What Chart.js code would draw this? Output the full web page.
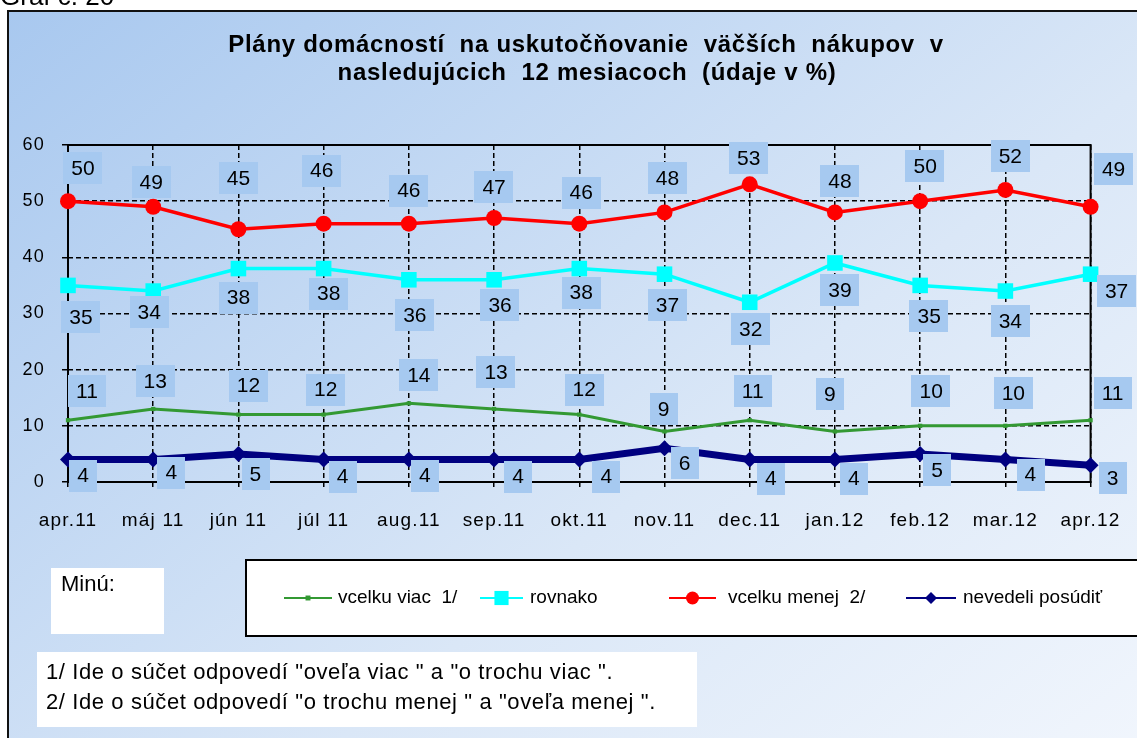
<!DOCTYPE html>
<html><head><meta charset="utf-8">
<script src="https://cdn.jsdelivr.net/npm/chart.js@4.4.1/dist/chart.umd.min.js"></script>
<style>html,body{margin:0;padding:0;background:#fff;overflow:hidden}canvas{display:block}</style>
</head><body>
<canvas id="c" width="1137" height="738"></canvas>
<script>
// ---------- DATA ----------
const categories = ['apr.11','máj 11','jún 11','júl 11','aug.11','sep.11','okt.11','nov.11','dec.11','jan.12','feb.12','mar.12','apr.12'];
const vcelkuViac  = [11,13,12,12,14,13,12,9,11,9,10,10,11];
const rovnako     = [35,34,38,38,36,36,38,37,32,39,35,34,37];
const vcelkuMenej = [50,49,45,46,46,47,46,48,53,48,50,52,49];
const nevedeli    = [4,4,5,4,4,4,4,6,4,4,5,4,3];
const yTickValues = [0,10,20,30,40,50,60];
const seriesNames = ['vcelku viac  1/','rovnako','vcelku menej  2/','nevedeli posúdiť'];
const titleLines  = ['Plány domácností  na uskutočňovanie  väčších  nákupov  v','nasledujúcich  12 mesiacoch  (údaje v %)'];
const noteLines   = ['1/ Ide o súčet odpovedí "oveľa viac " a "o trochu viac ".','2/ Ide o súčet odpovedí "o trochu menej " a "oveľa menej ".'];
const minuText    = 'Minú:';
const graphLabel  = 'Graf č. 20';

// ---------- STYLE / LAYOUT ----------
const FONT = 'Arial, "Liberation Sans", sans-serif';
const colors = ['#339933','#00ffff','#ff0000','#000080'];
// data-label offsets (px, relative to each point) – layout only
const labelOffsets = [
  {dx:[19,2,10,2,10,2,5,-1,3,-5,11,8,22], dy:[-29,-28,-29,-25,-28,-37,-25,-22,-29,-37,-35,-33,-27]},
  {dx:[13,-4,0,5,6,6,2,3,1,5,9,5,26], dy:[32,21,29,25,35,25,24,31,27,27,31,30,17]},
  {dx:[15,-2,0,-2,0,0,2,3,-1,5,5,5,23], dy:[-33,-25,-51,-53,-33,-31,-31,-34,-26,-31,-35,-34,-38]},
  {dx:[15,18,17,19,16,24,27,20,21,19,17,25,22], dy:[16,13,20,17,16,17,17,15,19,19,16,15,13]}
];

const deco = {
  id: 'deco',
  beforeDraw(chart) {
    const ctx = chart.ctx, W = chart.width, H = chart.height;
    ctx.save();
    ctx.fillStyle = '#fff';
    ctx.fillRect(0,0,W,H);
    const g = ctx.createLinearGradient(8, 11, 900, 1100);
    g.addColorStop(0, '#a8c8ef');
    g.addColorStop(0.55, '#dae7f7');
    g.addColorStop(1, '#f6f9fe');
    ctx.fillStyle = g;
    ctx.fillRect(8, 11, W, H);
    ctx.strokeStyle = '#111';
    ctx.lineWidth = 2;
    ctx.beginPath();
    ctx.moveTo(8, H + 5); ctx.lineTo(8, 11); ctx.lineTo(W + 5, 11);
    ctx.stroke();
    ctx.fillStyle = '#000';
    ctx.font = '26px ' + FONT;
    ctx.textBaseline = 'alphabetic';
    ctx.textAlign = 'left';
    ctx.fillText(graphLabel, 0, 5);
    // title
    ctx.letterSpacing = '0.7px';
    ctx.font = 'bold 24px ' + FONT;
    ctx.textAlign = 'center';
    ctx.textBaseline = 'middle';
    ctx.fillText(titleLines[0], 586, 45);
    ctx.fillText(titleLines[1], 587, 73);
    ctx.restore();
    // wider glyph spacing for axis labels (as in reference)
    ctx.letterSpacing = '1.2px';
  },
  beforeDatasetsDraw(chart) {
    const {ctx, chartArea: a} = chart;
    ctx.save();
    ctx.strokeStyle = '#000';
    ctx.lineWidth = 2;
    ctx.setLineDash([]);
    ctx.strokeRect(a.left, a.top, a.right - a.left, a.bottom - a.top);
    ctx.restore();
  },
  afterDraw(chart) {
    const ctx = chart.ctx;
    ctx.save();
    ctx.letterSpacing = '0px';
    // data labels
    ctx.font = '21px ' + FONT;
    ctx.textAlign = 'center';
    ctx.textBaseline = 'middle';
    chart.data.datasets.forEach((ds, di) => {
      const meta = chart.getDatasetMeta(di);
      meta.data.forEach((pt, i) => {
        const txt = String(ds.data[i]);
        const cx = pt.x + labelOffsets[di].dx[i];
        const cy = pt.y + labelOffsets[di].dy[i];
        const w = ctx.measureText(txt).width + 16;
        const h = 32;
        ctx.fillStyle = '#a6c9f0';
        ctx.fillRect(Math.round(cx - w/2), Math.round(cy - h/2), Math.round(w), h);
        ctx.fillStyle = '#000';
        ctx.fillText(txt, cx, cy + 1);
      });
    });
    // Minú box
    ctx.fillStyle = '#fff';
    ctx.fillRect(51, 568, 113, 66);
    ctx.fillStyle = '#000';
    ctx.font = '22px ' + FONT;
    ctx.textAlign = 'left';
    ctx.textBaseline = 'middle';
    ctx.fillText(minuText, 61, 585);
    // legend box
    ctx.fillStyle = '#fff';
    ctx.fillRect(246, 560, 1000, 76);
    ctx.strokeStyle = '#000';
    ctx.lineWidth = 2;
    ctx.strokeRect(246, 560, 1000, 76);
    const items = [
      {x1:284, x2:332, tx:338, style:'rect', r:3.5},
      {x1:480, x2:523, tx:530, style:'rect', r:10},
      {x1:669, x2:716, tx:728, style:'circle', r:6.5},
      {x1:906, x2:956, tx:963, style:'rectRot', r:6}
    ];
    const ly = 598;
    items.forEach((it, k) => {
      ctx.strokeStyle = colors[k];
      ctx.lineWidth = 2;
      ctx.beginPath(); ctx.moveTo(it.x1, ly); ctx.lineTo(it.x2, ly); ctx.stroke();
      ctx.fillStyle = colors[k];
      Chart.helpers.drawPoint(ctx, {pointStyle: it.style, radius: it.r, borderWidth: 0}, (it.x1+it.x2)/2, ly);
      ctx.fillStyle = '#000';
      ctx.font = '19px ' + FONT;
      ctx.textAlign = 'left';
      ctx.textBaseline = 'middle';
      ctx.fillText(seriesNames[k], it.tx, ly);
    });
    // notes
    ctx.fillStyle = '#fff';
    ctx.fillRect(37, 652, 660, 75);
    ctx.fillStyle = '#000';
    ctx.letterSpacing = '0.6px';
    ctx.font = '22px ' + FONT;
    ctx.fillText(noteLines[0], 46, 673);
    ctx.fillText(noteLines[1], 46, 703);
    ctx.restore();
  }
};

const mk = (label, data, color, width, style, radius, order) => ({
  label, data, borderColor: color, backgroundColor: color,
  borderWidth: width, pointStyle: style, pointRadius: radius, pointHoverRadius: radius,
  pointBorderWidth: 0, pointBackgroundColor: color, tension: 0, clip: false, order
});

new Chart(document.getElementById('c'), {
  type: 'line',
  data: {
    labels: categories,
    datasets: [
      mk(seriesNames[0], vcelkuViac, colors[0], 3, 'rect', 3, 4),
      mk(seriesNames[1], rovnako, colors[1], 3.5, 'rect', 11, 3),
      mk(seriesNames[2], vcelkuMenej, colors[2], 3.5, 'circle', 8, 2),
      mk(seriesNames[3], nevedeli, colors[3], 7, 'rectRot', 8, 1)
    ]
  },
  options: {
    responsive: false,
    animation: false,
    events: [],
    layout: { padding: { left: 0, top: 145, right: 38, bottom: 196 } },
    plugins: { legend: { display: false }, title: { display: false }, tooltip: { enabled: false } },
    scales: {
      x: {
        offset: false,
        afterFit(s) { s.height = 60; },
        grid: { color: '#000', lineWidth: 1.5, tickLength: 7, tickColor: '#000', tickWidth: 1.5, tickBorderDash: [5,3] },
        border: { display: false, dash: [5,3] },
        ticks: { color: '#000', font: { family: FONT, size: 19 }, padding: 20, maxRotation: 0, autoSkip: false }
      },
      y: {
        min: 0, max: 60,
        afterFit(s) { s.width = 68; },
        afterBuildTicks(s) { s.ticks = yTickValues.map(v => ({ value: v })); },
        grid: { color: '#000', lineWidth: 1.5, tickLength: 6, tickColor: '#000', tickWidth: 1.5, tickBorderDash: [] },
        border: { display: false, dash: [5,3] },
        ticks: { color: '#000', font: { family: FONT, size: 18 }, padding: 17 }
      }
    }
  },
  plugins: [deco]
});
</script>
</body></html>
